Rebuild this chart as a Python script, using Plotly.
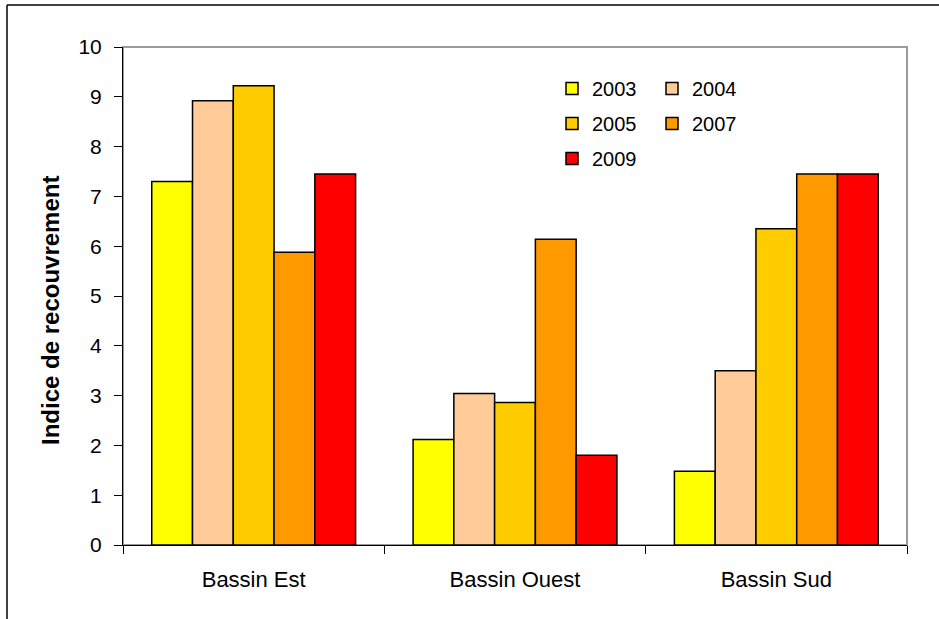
import plotly.graph_objects as go

# Recovery index per basin and survey year
bassins = ["Bassin Est", "Bassin Ouest", "Bassin Sud"]
annees = ["2003", "2004", "2005", "2007", "2009"]
v2003 = [7.3, 2.12, 1.48]
v2004 = [8.92, 3.04, 3.5]
v2005 = [9.22, 2.86, 6.35]
v2007 = [5.88, 6.14, 7.45]
v2009 = [7.45, 1.8, 7.45]
couleurs = ["#FFFF00", "#FFCC99", "#FFCC00", "#FF9900", "#FF0000"]
y_ticks = list(range(0, 11))
y_title = "Indice de recouvrement"

series = [v2003, v2004, v2005, v2007, v2009]
# two-column legend: left column and right column
legend_ref = ["legend", "legend2", "legend", "legend2", "legend"]

fig = go.Figure()
for name, vals, col, lg in zip(annees, series, couleurs, legend_ref):
    fig.add_trace(go.Bar(
        x=bassins, y=vals, name=name, legend=lg, legendgroup=name,
        marker=dict(color=col, line=dict(color="black", width=1.5)),
    ))

FONT = "Arial, Liberation Sans, sans-serif"
W, H = 939, 619
L, R, T, B = 123, 32, 47, 74
pw, ph = W - L - R, H - T - B

def px(x):
    return (x - L) / pw

def py(y):
    return (H - B - y) / ph

fig.update_layout(
    width=W, height=H,
    margin=dict(l=L, r=R, t=T, b=B),
    paper_bgcolor="white", plot_bgcolor="white",
    font=dict(family=FONT, size=20, color="black"),
    barmode="group", bargap=0.22, bargroupgap=0,
    showlegend=True,
    legend=dict(x=px(552), y=py(69), xanchor="left", yanchor="top",
                bgcolor="rgba(0,0,0,0)", font=dict(size=20),
                tracegroupgap=6),
    legend2=dict(x=px(652), y=py(69), xanchor="left", yanchor="top",
                 bgcolor="rgba(0,0,0,0)", font=dict(size=20),
                 tracegroupgap=6),
    xaxis=dict(showline=True, linecolor="black", linewidth=1,
               ticks="outside", tickson="boundaries", ticklen=8,
               tickcolor="black", tickfont=dict(size=22), showgrid=False,
               ticklabelstandoff=15),
    yaxis=dict(range=[0, 10], tickvals=y_ticks, showline=True,
               linecolor="black", linewidth=1, ticks="outside", ticklen=8,
               tickcolor="black", tickfont=dict(size=21), showgrid=False,
               zeroline=False, ticklabelstandoff=8),
    annotations=[
        dict(text="<b>" + y_title + "</b>", textangle=-90,
             xref="paper", yref="paper", x=px(51), y=py(311),
             xanchor="center", yanchor="middle", showarrow=False,
             font=dict(size=24, family=FONT, color="black")),
    ],
    shapes=[
        # plot area frame (grey top/right)
        dict(type="rect", xref="paper", yref="paper", x0=0, x1=1, y0=0, y1=1,
             line=dict(color="#9a9a9a", width=2), layer="below"),
        # outer chart frame
        dict(type="line", xref="paper", yref="paper",
             x0=px(7), x1=px(W + 5), y0=py(5), y1=py(5),
             line=dict(color="black", width=1.5)),
        dict(type="line", xref="paper", yref="paper",
             x0=px(7), x1=px(7), y0=py(5), y1=py(H + 5),
             line=dict(color="black", width=1.5)),
    ],
)

fig.write_html("out.html")
